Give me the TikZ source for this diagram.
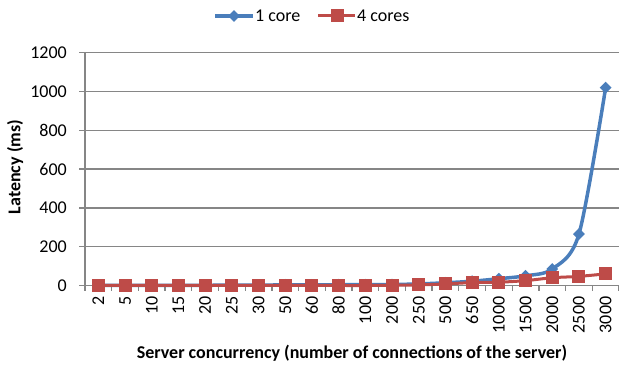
\documentclass[tikz,border=0pt]{standalone}
\usepackage{fontspec}
\setmainfont{Carlito}
\usepackage{tikz}
\usetikzlibrary{positioning, shapes.geometric}

\definecolor{coreblue}{RGB}{74,126,187}
\definecolor{corered}{RGB}{190,75,72}
\definecolor{gridgray}{RGB}{134,134,134}

\begin{document}
\begin{tikzpicture}[x=1pt, y=1pt, font=\fontsize{18}{20}\selectfont,
    grid/.style={gridgray, line width=1.3pt},
    oneline/.style={coreblue, line width=3.5pt, line join=round},
    fourline/.style={corered, line width=3pt, line join=round},
    dmark/.style={diamond, fill=coreblue, inner sep=0pt, minimum size=12pt},
    smark/.style={rectangle, fill=corered, inner sep=0pt, minimum size=13pt}]
  \useasboundingbox (0,0) rectangle (619,366);
  % plot area, one unit per category and per ms
  \begin{scope}[shift={(85,80.5)}, x=26.7pt, y=0.194pt]
    % grid lines
    \foreach \v in {200,400,...,1200} {
      \draw[grid] (0,\v) -- (20,\v);
    }
    % axes
    \draw[grid] (0,0) -- (0,1200);
    \draw[grid] (0,0) -- (20,0);
    % y ticks and labels
    \foreach \v in {0,200,...,1200} {
      \draw[grid] ([xshift=-6pt]0,\v) -- (0,\v);
      \node[anchor=east, inner sep=0pt] (yl\v) at ([xshift=-18pt]0,\v) {\v};
    }
    % x ticks and labels
    \foreach \i in {0,...,20} {
      \draw[grid] (\i,0) -- ([yshift=-6pt]\i,0);
    }
    \foreach \c [count=\i] in {2,5,10,15,20,25,30,50,60,80,100,200,250,500,650,1000,1500,2000,2500,3000} {
      \node[rotate=90, anchor=east, inner sep=0pt] (xl\i) at ([yshift=-11pt]\i-0.5,0) {\c};
    }
    % 1 core
    \foreach \v [count=\i] in {1,1,1,1,1,2,2,3,3,4,4,5,8,14,22,35,50,85,265,1020} {
      \coordinate (b\i) at (\i-0.5,\v);
    }
    \draw[oneline] plot[smooth, tension=0.5] coordinates {(b1) (b2) (b3) (b4) (b5) (b6) (b7) (b8) (b9) (b10)
      (b11) (b12) (b13) (b14) (b15) (b16) (b17) (b18) (b19) (b20)};
    \foreach \i in {1,...,20} {
      \node[dmark] (bm\i) at (b\i) {};
    }
    % 4 cores
    \foreach \v [count=\i] in {0,0,0,0,0,0,0,0,0,0,0,1,3,8,15,17,25,40,47,60} {
      \coordinate (r\i) at (\i-0.5,\v);
    }
    \draw[fourline] plot[smooth, tension=0.5] coordinates {(r1) (r2) (r3) (r4) (r5) (r6) (r7) (r8) (r9) (r10)
      (r11) (r12) (r13) (r14) (r15) (r16) (r17) (r18) (r19) (r20)};
    \foreach \i in {1,...,20} {
      \node[smark] (rm\i) at (r\i) {};
    }
  \end{scope}
  % legend
  \coordinate (lg1a) at (215,350);
  \coordinate (lg1b) at (253,350);
  \draw[oneline] (lg1a) -- (lg1b);
  \node[dmark] (lgm1) at (234,350) {};
  \node[anchor=west, inner sep=0pt, right=2pt of lg1b] (lgt1) {1 core};
  \coordinate (lg2a) at (318,350);
  \coordinate (lg2b) at (355,350);
  \draw[fourline] (lg2a) -- (lg2b);
  \node[smark] (lgm2) at (337,350) {};
  \node[anchor=west, inner sep=0pt, right=2pt of lg2b] (lgt2) {4 cores};
  % axis titles
  \node[font=\fontsize{18}{20}\selectfont\bfseries, rotate=90] (ytitle) at (15,199) {Latency (ms)};
  \node[font=\fontsize{18}{20}\selectfont\bfseries] (xtitle) at (352,13) {Server concurrency (number of connections of the server)};
\end{tikzpicture}
\end{document}
